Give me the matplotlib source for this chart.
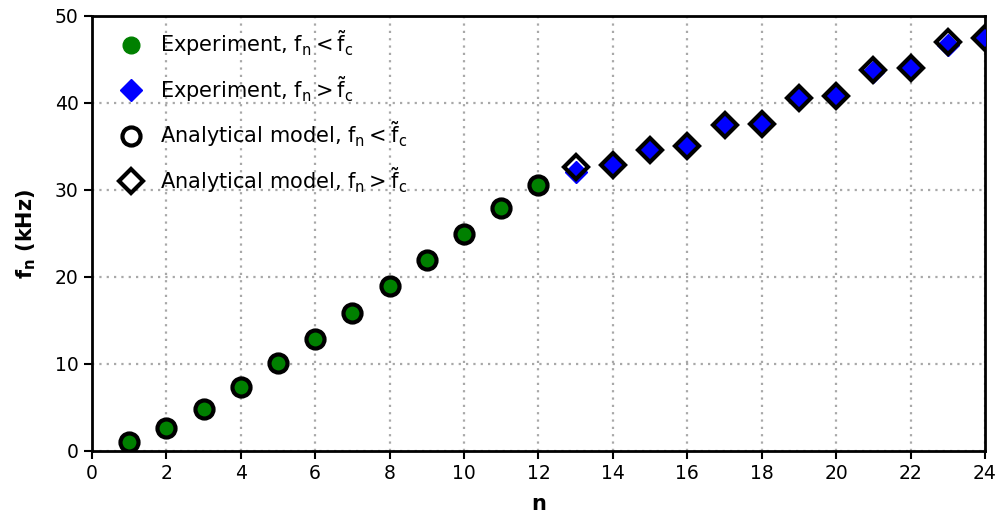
import numpy as np
import matplotlib.pyplot as plt

plt.rcParams['mathtext.default'] = 'regular'

# mode number, below cut-off
n_low = [1, 2, 3, 4, 5, 6, 7, 8, 9, 10, 11, 12]
exp_low = [1.0, 2.6, 4.8, 7.3, 10.1, 12.9, 15.9, 18.9, 21.9, 24.9, 27.9, 30.5]
model_low = [1.0, 2.6, 4.8, 7.3, 10.1, 12.9, 15.9, 18.9, 21.9, 24.9, 27.9, 30.5]

# mode number, above cut-off
n_high = [13, 14, 15, 16, 17, 18, 19, 20, 21, 22, 23, 24]
exp_high = [32.1, 32.8, 34.5, 35.0, 37.4, 37.6, 40.5, 40.7, 43.5, 44.0, 46.6, 47.3]
model_high = [32.6, 32.8, 34.6, 35.0, 37.5, 37.6, 40.6, 40.8, 43.8, 44.0, 47.0, 47.5]

fig = plt.figure(figsize=(9.99, 5.25), dpi=100)
ax = fig.add_axes([0.092, 0.141, 0.894, 0.829])

# experiment (filled) then model (open, on top)
ax.plot(n_low, exp_low, 'o', color='green', ms=12, mec='green', zorder=3,
        label=r'Experiment, $f_n < \tilde{f}_c$')
ax.plot(n_high, exp_high, 'D', color='blue', ms=11.5, mec='blue', zorder=3,
        label=r'Experiment, $f_n > \tilde{f}_c$')
ax.plot(n_low, model_low, 'o', mfc='none', mec='black', mew=3, ms=13, zorder=4,
        label=r'Analytical model, $f_n < \tilde{f}_c$')
ax.plot(n_high, model_high, 'D', mfc='none', mec='black', mew=3, ms=12.5, zorder=4,
        label=r'Analytical model, $f_n > \tilde{f}_c$')

ax.set_xlim(0, 24)
ax.set_ylim(0, 50)
ax.set_xticks(np.arange(0, 25, 2))
ax.set_yticks(np.arange(0, 51, 10))
ax.tick_params(labelsize=13.5, width=1.5, length=6)
for s in ax.spines.values():
    s.set_linewidth(2)
ax.grid(True, linestyle=(0, (1, 2.3)), color='#a8a8a8', linewidth=1.6)
ax.set_axisbelow(True)

ax.set_xlabel('n', fontsize=15, fontweight='bold', labelpad=8)
ax.set_ylabel(r'$\mathbf{f_n}$ (kHz)', fontsize=15, fontweight='bold', labelpad=12)

ax.legend(loc='upper left', bbox_to_anchor=(0, 1.014), frameon=False, fontsize=15,
          handletextpad=0.35, borderaxespad=0.5, labelspacing=0.75)

plt.savefig('out.png', dpi=100)
